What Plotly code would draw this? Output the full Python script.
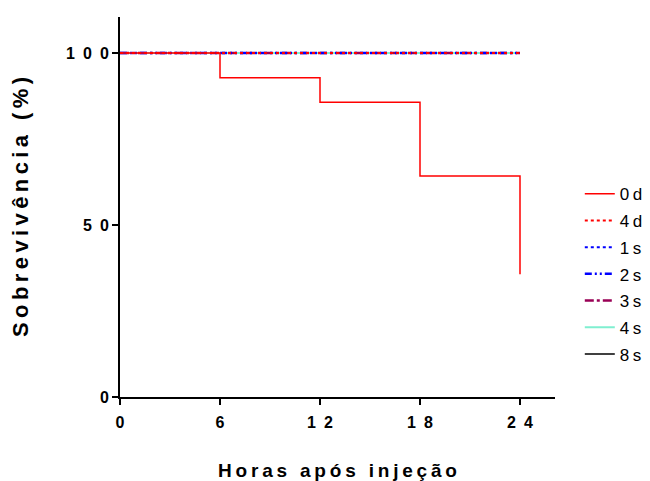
import plotly.graph_objects as go

groups = ["0d", "4d", "1s", "2s", "3s", "4s", "8s"]
colors = ["#FF0000", "#FF0000", "#0000FF", "#0000FF", "#990055", "#7FEFD0", "#000000"]
dashes = ["solid", "dot", "dot", "7px,3px,2px,3px,2px,3px", "dashdot", "solid", "solid"]
widths = [1.5, 2, 2, 2.5, 2.5, 2, 1.5]

time_0d = [0, 6, 12, 18, 24, 24]
surv_0d = [100, 92.86, 85.71, 64.29, 64.29, 35.71]
time_flat = [0, 24]
surv_flat = [100, 100]

x_ticks = [0, 6, 12, 18, 24]
x_tick_labels = ["0", "6", "12", "18", "24"]
y_ticks = [0, 50, 100]
y_tick_labels = ["0", "50", "100"]

def spaced(s, sep="\u2009", wsep="\u2009 \u2009"):
    return wsep.join(sep.join(list(w)) for w in s.split(" "))

FONT = "Liberation Sans, Arial"

fig = go.Figure()
order = list(range(len(groups)))[::-1]
for i in order:
    g = groups[i]
    if g == "0d":
        xs, ys = time_0d, surv_0d
    else:
        xs, ys = time_flat, surv_flat
    fig.add_trace(go.Scatter(
        x=xs, y=ys, mode="lines", line_shape="hv",
        line=dict(color=colors[i], dash=dashes[i], width=widths[i]),
        name=spaced(g), legendgroup=g, legendrank=i + 1,
    ))

fig.update_layout(
    width=642, height=473,
    margin=dict(l=112, r=95, t=9, b=84, autoexpand=False),
    plot_bgcolor="white", paper_bgcolor="white",
    font=dict(family=FONT, color="black", size=15),
    showlegend=True,
    legend=dict(x=1.057, y=0.581, xanchor="left", yanchor="top",
                traceorder="grouped", tracegroupgap=1.6,
                font=dict(size=17), itemwidth=30,
                bgcolor="rgba(0,0,0,0)"),
    xaxis=dict(range=[0, 26.1], tickvals=x_ticks,
               ticktext=[spaced(t, "\u2002") for t in x_tick_labels],
               showgrid=False, zeroline=False, showline=True, linecolor="black",
               linewidth=2, ticks="outside", ticklen=6, tickwidth=2, tickcolor="black",
               tickfont=dict(size=16, family=FONT, weight="bold"),
               ticklabelstandoff=4,
               automargin=False,
               title=dict(text=spaced("Horas após injeção"), standoff=37,
                          font=dict(size=19, weight="bold"))),
    yaxis=dict(range=[0, 110.5], tickvals=y_ticks,
               ticktext=[spaced(t, "\u2002") for t in y_tick_labels],
               showgrid=False, zeroline=False, showline=True, linecolor="black",
               linewidth=2, ticks="outside", ticklen=6, tickwidth=2, tickcolor="black",
               tickfont=dict(size=16, family=FONT, weight="bold"),
               automargin=False,
               title=dict(text=spaced("Sobrevivência (%)"), standoff=38,
                          font=dict(size=22, weight="bold"))),
)

fig.write_html("out.html")
